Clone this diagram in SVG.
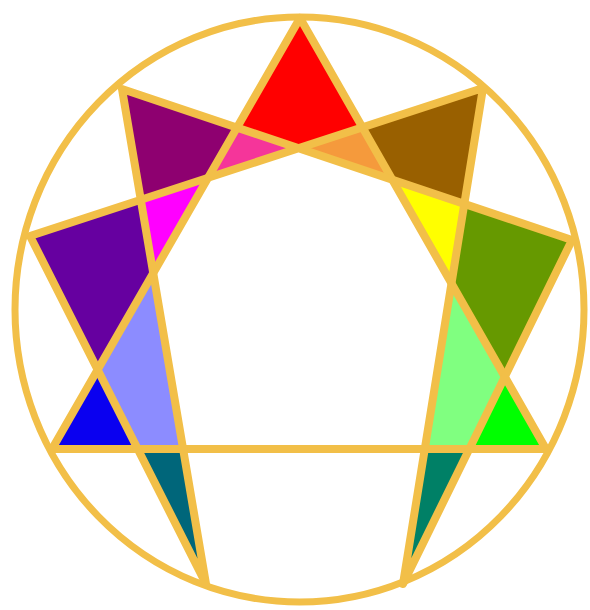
<svg xmlns="http://www.w3.org/2000/svg" width="590" height="610" viewBox="0 0 590 610">
<style>
.ln{fill:none;stroke:#F2BF48;stroke-width:8;stroke-linecap:round;stroke-linejoin:round}
.ring{fill:none;stroke:#F2BF48;stroke-width:7}
</style>
<rect width="590" height="610" fill="#FFFFFF"/>
<g id="regions">
<polygon id="red" points="300,18 237,127.6 298.6,148.3 362.4,127.4" fill="#FF0000"/>
<polygon id="pink" points="237,127.6 208,177.8 298.6,148.3" fill="#F5359A"/>
<polygon id="orange" points="362.4,127.4 392.3,179.7 298.6,148.3" fill="#F59A3C"/>
<polygon id="darkmagenta" points="122,89 237,127.6 208,177.8 140.8,199.8" fill="#8E0070"/>
<polygon id="magenta" points="140.8,199.8 208,177.8 153.2,273.1" fill="#FF00FF"/>
<polygon id="indigo" points="30,236 140.8,199.8 153.2,273.1 97.6,369.7" fill="#6600A0"/>
<polygon id="periwinkle" points="153.2,273.1 97.6,369.7 137.7,449 183.1,449" fill="#8C8CFF"/>
<polygon id="blue" points="97.6,369.7 52,449 137.7,449" fill="#0A00F0"/>
<polygon id="teal" points="137.7,449 183.1,449 206,584" fill="#00667A"/>
<polygon id="brown" points="483,88 362.4,127.4 392.3,179.7 464.3,203.9" fill="#996000"/>
<polygon id="yellow" points="464.3,203.9 392.3,179.7 451.5,283.4" fill="#FFFF00"/>
<polygon id="olive" points="572,240 464.3,203.9 451.5,283.4 504.8,376.8" fill="#669900"/>
<polygon id="lightgreen" points="451.5,283.4 504.8,376.8 469.3,449 424.8,449" fill="#80FF80"/>
<polygon id="green" points="504.8,376.8 546,449 469.3,449" fill="#00FF00"/>
<polygon id="darkgreen" points="469.3,449 424.8,449 403,584" fill="#008066"/>
</g>
<g id="circle">
<ellipse class="ring" cx="299.5" cy="309.5" rx="284.5" ry="292.5"/>
</g>
<g id="connectors">
<polygon class="ln" points="300,18 546,449 52,449"/>
<polyline class="ln" points="483,88 403,584 572,240 122,89 206,584 30,236 483,88"/>
</g>
</svg>
